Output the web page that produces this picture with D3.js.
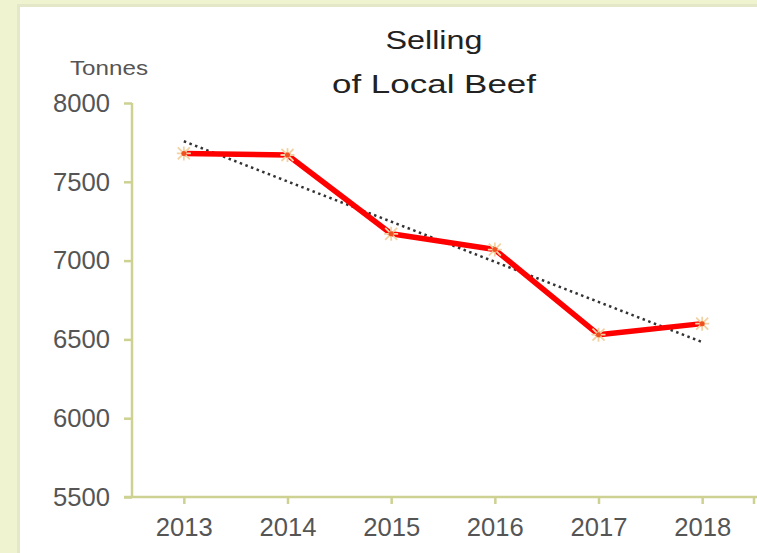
<!DOCTYPE html>
<html>
<head>
<meta charset="utf-8">
<script src="https://cdn.jsdelivr.net/npm/d3@7"></script>
<style>
  html, body { margin: 0; padding: 0; background: #eff3d0; }
  svg { display: block; font-family: "Liberation Sans", Arial, sans-serif; }
</style>
</head>
<body>
<svg id="chart" width="757" height="553"></svg>
<script>
// 数据
const years = ['2013', '2014', '2015', '2016', '2017', '2018'];
const tonnes = [7680, 7670, 7170, 7070, 6530, 6600];
const yTicks = [5500, 6000, 6500, 7000, 7500, 8000];
const titleLines = ['Selling', 'of Local Beef'];
const yUnit = 'Tonnes';

let svg = d3.select('#chart');
let width = 757, height = 553;

// 背景 面板
svg.append('rect').attr('x', 0).attr('y', 0).attr('width', width).attr('height', height).attr('fill', '#eff3d0');
svg.append('rect').attr('x', 17).attr('y', 4).attr('width', width - 17).attr('height', height - 4).attr('fill', '#e4e8c8');
svg.append('rect').attr('x', 20).attr('y', 7).attr('width', width - 20).attr('height', height - 7).attr('fill', '#ffffff');

// 比例尺
let margin = {left: 132, top: 103, right: 3, bottom: 56};
let x = d3.scalePoint()
    .domain(years)
    .range([margin.left, width - margin.right])
    .padding(0.5);
let y = d3.scaleLinear()
    .domain([5500, 8000])
    .range([height - margin.bottom, margin.top]);

let axisColor = '#cdd192';

// y 轴
let yAxis = svg.append('g')
    .attr('transform', 'translate(' + margin.left + ',0)')
    .call(d3.axisLeft(y).tickValues(yTicks).tickSize(8).tickPadding(14).tickFormat(d3.format('d')));
yAxis.select('.domain').attr('stroke', axisColor).attr('stroke-width', 2.5).attr('d', 'M0,' + y(8000) + 'V' + y(5500));
yAxis.selectAll('.tick line').attr('stroke', axisColor).attr('stroke-width', 2.5);
yAxis.selectAll('.tick text').attr('fill', '#555').style('font-size', '26px')
    .attr('textLength', 57).attr('lengthAdjust', 'spacingAndGlyphs');

// x 轴
let xAxis = svg.append('g')
    .attr('transform', 'translate(0,' + y(5500) + ')')
    .call(d3.axisBottom(x).tickSize(7).tickPadding(14));
xAxis.select('.domain').attr('stroke', axisColor).attr('stroke-width', 2.5)
    .attr('d', 'M' + (margin.left - 8) + ',0H' + width);
xAxis.selectAll('.tick line').attr('stroke', axisColor).attr('stroke-width', 2.5);
xAxis.selectAll('.tick text').attr('fill', '#555').style('font-size', '26px')
    .attr('textLength', 57).attr('lengthAdjust', 'spacingAndGlyphs');
// 末端 刻度
xAxis.append('line')
    .attr('x1', x.range()[1]).attr('x2', x.range()[1])
    .attr('y1', 0).attr('y2', 7)
    .attr('stroke', axisColor).attr('stroke-width', 2.5);

// 单位
svg.append('text')
    .attr('x', 70).attr('y', 75)
    .attr('fill', '#555')
    .style('font-size', '21px')
    .attr('textLength', 78).attr('lengthAdjust', 'spacingAndGlyphs')
    .text(yUnit);

// 标题
let titleWidths = [97, 204];
svg.append('text')
    .attr('x', 434).attr('y', 49)
    .attr('text-anchor', 'middle')
    .attr('fill', '#222')
    .style('font-size', '26px')
    .selectAll('tspan')
    .data(titleLines)
    .enter()
    .append('tspan')
    .attr('x', 434)
    .attr('dy', (d, i) => i === 0 ? 0 : 44)
    .attr('textLength', (d, i) => titleWidths[i])
    .attr('lengthAdjust', 'spacingAndGlyphs')
    .text(d => d);

// 趋势线 (线性回归)
let idx = years.map((d, i) => i);
let mx = d3.mean(idx), my = d3.mean(tonnes);
let slope = d3.sum(idx, i => (i - mx) * (tonnes[i] - my)) / d3.sum(idx, i => (i - mx) * (i - mx));
let icpt = my - slope * mx;
let n = years.length - 1;
svg.append('line')
    .attr('x1', x(years[0])).attr('y1', y(icpt))
    .attr('x2', x(years[n])).attr('y2', y(icpt + slope * n))
    .attr('stroke', '#333')
    .attr('stroke-width', 2.5)
    .attr('stroke-dasharray', '2.5,3.5');

// 折线
let line = d3.line()
    .x((d, i) => x(years[i]))
    .y(d => y(d));
svg.append('path')
    .datum(tonnes)
    .attr('d', line)
    .attr('fill', 'none')
    .attr('stroke', '#ff0000')
    .attr('stroke-width', 5.5)
    .attr('stroke-linejoin', 'round');

// 标记点
let marks = svg.append('g').selectAll('g')
    .data(tonnes)
    .enter()
    .append('g')
    .attr('transform', (d, i) => 'translate(' + x(years[i]) + ',' + y(d) + ')');
marks.append('path')
    .attr('d', 'M-6,-6L6,6M-6,6L6,-6M0,-7V7M-7,0H7')
    .attr('stroke', '#f2d2a2')
    .attr('stroke-width', 1.8)
    .attr('fill', 'none');
marks.append('circle')
    .attr('r', 2.5)
    .attr('fill', '#f05020');
</script>
</body>
</html>
